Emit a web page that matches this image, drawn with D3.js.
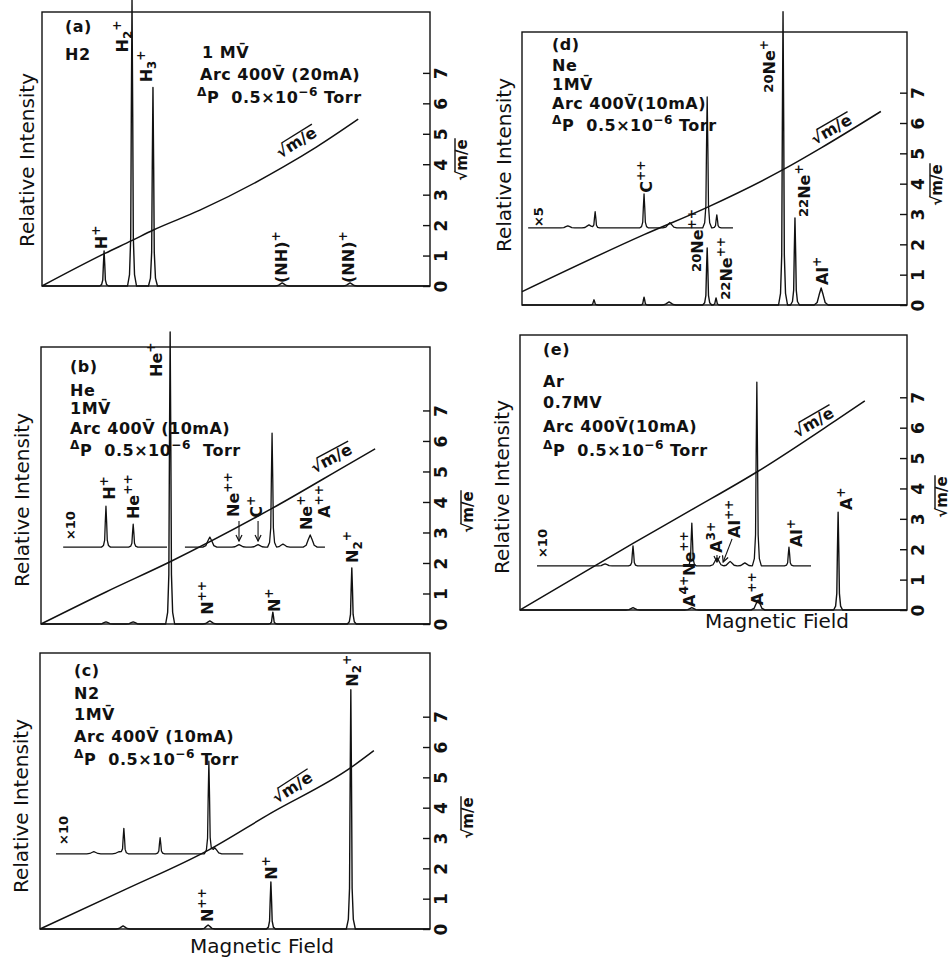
<!DOCTYPE html>
<html><head><meta charset="utf-8">
<script src="https://cdn.jsdelivr.net/npm/d3@7"></script>
<style>
body{margin:0;background:#fff}
svg{display:block;background:#fff}
text{font-family:"DejaVu Sans",sans-serif;white-space:pre;fill:#111}
</style>
</head><body>
<svg id="fig" width="951" height="957"></svg>
<script>
// ---------------- DATA ----------------
// field: arbitrary magnetic-field units 0..100 across each frame
// intensity / sqrt(m/e): right-axis units
const sqrtTicks = [0,1,2,3,4,5,6,7];

// (a) H2
const aPeaks = [[16.0,1.15,"n"],[23.2,9.4,"n"],[28.6,6.52,"n"],[61.9,0.1,"b"],[79.4,0.1,"b"]];
const aCurve = [[0,0],[16.2,1.07],[23.1,1.49],[28.7,1.84],[40.7,2.49],[62.2,3.91],[70.8,4.57],[81.5,5.48]];
const aIons = [["H^{+}",16.75,1.21],["H_{2}^{+}",22.2,7.67],["H_{3}^{+}",28.35,6.69],["(NH)^{+}",63.1,0.1],["(NN)^{+}",80.4,0.1]];
const aNotes = ["(a)","H2","1 MV\u0304","Arc 400V\u0304 (20mA)","^{Δ}P  0.5×10^{−6} Torr"];

// (b) He
const bPeaks = [[16.7,0.07,"b"],[23.7,0.07,"b"],[33.2,9.57,"n"],[43.4,0.1,"b"],[59.6,0.39,"n"],[79.9,1.84,"n"]];
const bCurve = [[0,0],[16.7,1.05],[33.2,2.04],[59.4,3.79],[79.9,5.30],[85.9,5.74]];
const bInsetLevel = 2.52;
const bInsetSpans = [[5.7,32.4],[37.0,73.0]];
const bInsetPeaks = [[16.7,1.34,"n"],[23.7,0.75,"n"],[43.4,0.33,"b"],[50.9,0.08,"b"],[55.8,0.08,"b"],[59.4,3.74,"n"],[62.2,0.1,"b"],[69.2,0.4,"b"]];
const bGain = ["×10",8.7,2.75];
const bIons = [["He^{+}",31.1,8.1],["H^{+}",19.0,4.07],["He^{++}",25.2,3.44],["Ne^{++}",50.9,3.51],["C^{+}",56.8,3.48],
               ["Ne^{+}",69.7,3.08],["A^{++}",74.3,3.48],["N^{++}",44.2,0.3],["N^{+}",61.4,0.39],["N_{2}^{+}",81.5,2.0]];
const bArrows = [[50.9,3.38,50.9,2.72],[55.8,3.38,55.8,2.72]];
const bNotes = ["(b)","He","1MV\u0304","Arc 400V\u0304 (10mA)","^{Δ}P  0.5×10^{−6}  Torr"];

// (c) N2
const cPeaks = [[21.3,0.1,"b"],[43.1,0.13,"b"],[59.2,1.55,"n"],[79.7,7.89,"n"]];
const cCurve = [[0,0],[21.5,1.28],[43.3,2.61],[59.2,3.82],[79.7,5.32],[85.6,5.88]];
const cInsetLevel = 2.48;
const cInsetSpans = [[4.1,52.1]];
const cInsetPeaks = [[13.8,0.07,"b"],[20.3,0.07,"b"],[21.5,0.83,"n"],[30.8,0.53,"n"],[43.3,3.04,"n"],[44.8,0.2,"b"]];
const cGain = ["×10",7.2,2.77];
const cIons = [["N^{++}",44.4,0.23],["N^{+}",60.8,1.62],["N_{2}^{+}",81.5,7.99]];
const cNotes = ["(c)","N2","1MV\u0304","Arc 400V\u0304 (10mA)","^{Δ}P  0.5×10^{−6} Torr"];

// (d) Ne
const dPeaks = [[18.7,0.17,"n"],[31.7,0.26,"n"],[38.2,0.1,"b"],[48.1,1.88,"n"],[50.4,0.23,"n"],[67.8,9.67,"n"],[70.9,2.87,"n"],[77.7,0.56,"b"]];
const dCurve = [[0,0.44],[31.7,2.32],[48.1,3.22],[67.8,4.46],[77.7,5.18],[93.2,6.38]];
const dInsetLevel = 2.54;
const dInsetSpans = [[1.6,54.8]];
const dInsetPeaks = [[11.9,0.07,"b"],[17.4,0.1,"b"],[19.0,0.53,"n"],[31.7,1.12,"n"],[38.4,0.17,"b"],[48.1,4.32,"n"],[50.6,0.43,"n"]];
const dGain = ["×5",5.5,2.57];
const dIons = [["C^{++}",33.8,3.7],["#{20}Ne^{+}",65.7,7.0],["#{22}Ne^{+}",74.8,2.9],["Al^{+}",79.5,0.66],
               ["#{20}Ne^{++}",47.0,1.09],["#{22}Ne^{++}",54.5,0.17]];
const dNotes = ["(d)","Ne","1MV\u0304","Arc 400V\u0304(10mA)","^{Δ}P  0.5×10^{−6} Torr"];

// (e) Ar
const ePeaks = [[29.2,0.08,"b"],[44.4,0.08,"b"],[61.5,0.33,"b"],[82.2,3.22,"n"]];
const eCurve = [[0,0],[29.2,2.19],[44.4,3.30],[61.3,4.55],[82.2,6.29],[89.1,6.88]];
const eInsetLevel = 1.45;
const eInsetSpans = [[4.4,75.2]];
const eInsetPeaks = [[22.0,0.07,"b"],[29.2,0.66,"n"],[44.4,1.41,"n"],[50.9,0.26,"b"],[54.3,0.15,"b"],[58.1,0.1,"b"],[61.2,6.05,"n"],[69.5,0.62,"n"]];
const eGain = ["×10",7.0,1.71];
const eIons = [["A^{4+}Ne^{++}",45.2,0.1],["A^{3+}",52.2,1.88],["Al^{++}",56.8,2.37],["Al^{+}",72.9,2.07],["A^{++}",62.8,0.16],["A^{+}",85.8,3.29]];
const eArrows = [[50.9,1.81,50.9,1.58],[54.8,2.34,52.5,1.58]];
const eNotes = ["(e)","Ar","0.7MV","Arc 400V\u0304(10mA)","^{Δ}P  0.5×10^{−6} Torr"];

// ---------------- LAYOUT ----------------
const layout = {
  a:{left:42,right:430,top:12,bottom:286,ymax:9.0,notes:[[65,32],[65,60],[202,58],[200,80],[197,103]],
     yLab:[34,160],sLab:[470,160],cLab:[296,142,-32]},
  b:{left:41,right:430,top:347,bottom:624,ymax:9.08,notes:[[70,372],[70,396],[70,414],[70,434],[70,456]],
     yLab:[29,500],sLab:[476,512],cLab:[331,458,-28]},
  c:{left:40,right:430,top:653,bottom:929,ymax:9.1,notes:[[74,676],[74,699],[74,720],[74,742],[74,765]],
     yLab:[28,806],sLab:[476,818],cLab:[292,787,-33],xLab:[262,953]},
  d:{left:522,right:907,top:32,bottom:305,ymax:9.0,notes:[[552,50],[552,71],[552,90],[552,109],[552,131]],
     yLab:[511,165],sLab:[945,185],cLab:[831,129,-30]},
  e:{left:520,right:907,top:335,bottom:610,ymax:9.05,notes:[[543,355],[543,387],[543,408],[543,432],[543,456]],
     yLab:[509,487],sLab:[950,497],cLab:[813,422,-30],xLab:[777,628]}
};

const panelData = {
  a:{peaks:aPeaks,curve:aCurve,ions:aIons,notes:aNotes},
  b:{peaks:bPeaks,curve:bCurve,ions:bIons,notes:bNotes,level:bInsetLevel,spans:bInsetSpans,inset:bInsetPeaks,gain:bGain,arrows:bArrows},
  c:{peaks:cPeaks,curve:cCurve,ions:cIons,notes:cNotes,level:cInsetLevel,spans:cInsetSpans,inset:cInsetPeaks,gain:cGain},
  d:{peaks:dPeaks,curve:dCurve,ions:dIons,notes:dNotes,level:dInsetLevel,spans:dInsetSpans,inset:dInsetPeaks,gain:dGain},
  e:{peaks:ePeaks,curve:eCurve,ions:eIons,notes:eNotes,level:eInsetLevel,spans:eInsetSpans,inset:eInsetPeaks,gain:eGain,arrows:eArrows}
};

// peak profile shapes (px offset, fraction of height)
const shapes = {
  n:[[-4.5,0],[-2.5,0.04],[-1.3,0.17],[-0.7,0.6],[0,1],[0.7,0.6],[1.3,0.17],[2.5,0.04],[4.5,0]],
  b:[[-7,0],[-4,0.15],[-2,0.6],[0,1],[2,0.6],[4,0.15],[7,0]]
};

// ---------------- DRAW ----------------
const svg = d3.select("#fig");
svg.append("rect").attr("width",951).attr("height",957).attr("fill","#fff");
const defs = svg.append("defs");
defs.append("marker").attr("id","arr").attr("viewBox","0 0 8 8").attr("refX",7).attr("refY",4)
  .attr("markerWidth",8).attr("markerHeight",8).attr("markerUnits","userSpaceOnUse").attr("orient","auto")
  .append("path").attr("d","M1,1 L7,4 L1,7").attr("fill","none").attr("stroke","#111").attr("stroke-width",1.2);

function rich(sel, markup, fs){
  const re = /\^\{([^}]*)\}|_\{([^}]*)\}|#\{([^}]*)\}|([^\^_#]+)/g;
  let shift = 0, m;
  while((m = re.exec(markup))){
    let target, size, t;
    if(m[1]!==undefined){target=-0.42*fs; size=0.76*fs; t=m[1];}
    else if(m[2]!==undefined){target=0.22*fs; size=0.74*fs; t=m[2];}
    else if(m[3]!==undefined){target=-0.12*fs; size=0.82*fs; t=m[3];}
    else {target=0; size=fs; t=m[4];}
    sel.append("tspan").attr("dy",(target-shift).toFixed(2)).attr("font-size",size.toFixed(2)).text(t);
    shift = target;
  }
}

function profile(shape, dx){
  if(dx<=shape[0][0] || dx>=shape[shape.length-1][0]) return 0;
  for(let i=0;i<shape.length-1;i++){
    const [x0,y0]=shape[i],[x1,y1]=shape[i+1];
    if(dx>=x0 && dx<=x1) return y0+(y1-y0)*(dx-x0)/(x1-x0);
  }
  return 0;
}

function tracePoints(xs, ys, level, span, peaks){
  const profs = peaks.map(([f,h,k])=>({cx:xs(f),h,shape:shapes[k]}));
  const x0 = xs(span[0]), x1 = xs(span[1]);
  const set = new Set([x0,x1]);
  profs.forEach(p=>p.shape.forEach(([dx])=>set.add(p.cx+dx)));
  const arr = [...set].filter(x=>x>=x0 && x<=x1).sort((a,b)=>a-b);
  return arr.map(x=>{
    let v = level;
    profs.forEach(p=>{ v += p.h*profile(p.shape, x-p.cx); });
    return [x, ys(v)];
  });
}

function sqrtLabel(g, fs){
  const t = g.append("text").attr("font-size",fs).attr("font-weight","bold");
  t.append("tspan").text("√");
  t.append("tspan").text("m/e");
  const node = t.node();
  const total = node.getComputedTextLength();
  const w1 = node.getSubStringLength(0,1);
  t.attr("x",-total/2);
  g.append("line").attr("x1",-total/2+w1-1).attr("x2",total/2+1)
    .attr("y1",-0.8*fs).attr("y2",-0.8*fs).attr("stroke","#111").attr("stroke-width",1.4);
}

const line = d3.line().x(d=>d[0]).y(d=>d[1]);

Object.keys(layout).forEach(id=>{
  const L = layout[id], D = panelData[id];
  const xs = d3.scaleLinear().domain([0,100]).range([L.left,L.right]);
  const ys = d3.scaleLinear().domain([0,L.ymax]).range([L.bottom,L.top]);
  const g = svg.append("g");

  // frame
  g.append("rect").attr("x",L.left).attr("y",L.top).attr("width",L.right-L.left).attr("height",L.bottom-L.top)
    .attr("fill","none").attr("stroke","#111").attr("stroke-width",1.4);

  // right axis (sqrt m/e), inward ticks, rotated labels
  const ax = d3.axisLeft(ys).tickValues(sqrtTicks).tickSize(7).tickFormat(d3.format("d"));
  const axg = g.append("g").attr("transform",`translate(${L.right},0)`).call(ax);
  axg.select(".domain").remove();
  axg.selectAll(".tick line").attr("stroke","#111").attr("stroke-width",1.4);
  axg.selectAll(".tick text").attr("x",null).attr("dy",null)
    .attr("transform","translate(17,0) rotate(-90)").attr("text-anchor","middle")
    .attr("font-size",17).attr("font-weight","bold").attr("font-family","DejaVu Sans").attr("fill","#111");

  // sqrt(m/e) curve
  g.append("path").attr("d",d3.line().curve(d3.curveMonotoneX).x(d=>xs(d[0])).y(d=>ys(d[1]))(D.curve))
    .attr("fill","none").attr("stroke","#111").attr("stroke-width",1.5);

  // main trace
  g.append("path").attr("d",line(tracePoints(xs,ys,0,[0,100],D.peaks)))
    .attr("fill","none").attr("stroke","#111").attr("stroke-width",1.4).attr("stroke-linejoin","round");

  // inset (magnified) trace
  if(D.spans){
    D.spans.forEach(sp=>{
      const pk = D.inset.filter(p=>p[0]>=sp[0] && p[0]<=sp[1]);
      g.append("path").attr("d",line(tracePoints(xs,ys,D.level,sp,pk)))
        .attr("fill","none").attr("stroke","#111").attr("stroke-width",1.3).attr("stroke-linejoin","round");
    });
    const [gt,gf,gv] = D.gain;
    g.append("text").attr("transform",`translate(${xs(gf)},${ys(gv)}) rotate(-90)`)
      .attr("font-size",13).attr("font-weight","bold").text(gt);
  }

  // arrows
  (D.arrows||[]).forEach(([f1,v1,f2,v2])=>{
    g.append("line").attr("x1",xs(f1)).attr("y1",ys(v1)).attr("x2",xs(f2)).attr("y2",ys(v2))
      .attr("stroke","#111").attr("stroke-width",1.1).attr("marker-end","url(#arr)");
  });

  // ion labels (rotated)
  D.ions.forEach(([mk,f,v])=>{
    const t = g.append("text").attr("transform",`translate(${xs(f)},${ys(v)}) rotate(-90)`)
      .attr("font-weight","bold").attr("font-size",16);
    rich(t, mk, 16);
  });

  // notes
  D.notes.forEach((mk,i)=>{
    const [nx,ny] = L.notes[i];
    const t = g.append("text").attr("x",nx).attr("y",ny).attr("font-weight","bold")
      .attr("font-size",16).attr("letter-spacing",0.5);
    rich(t, mk, 16);
  });

  // axis titles
  g.append("text").attr("transform",`translate(${L.yLab[0]},${L.yLab[1]}) rotate(-90)`)
    .attr("text-anchor","middle").attr("font-size",20).text("Relative Intensity");
  if(L.xLab){
    g.append("text").attr("x",L.xLab[0]).attr("y",L.xLab[1]).attr("text-anchor","middle")
      .attr("font-size",20).text("Magnetic Field");
  }
  // right axis title
  sqrtLabel(g.append("g").attr("transform",`translate(${L.sLab[0]-3},${L.sLab[1]}) rotate(-90)`), 15);
  // curve label
  sqrtLabel(g.append("g").attr("transform",`translate(${L.cLab[0]},${L.cLab[1]}) rotate(${L.cLab[2]}) translate(0,6)`), 16);
});
</script>
</body></html>
